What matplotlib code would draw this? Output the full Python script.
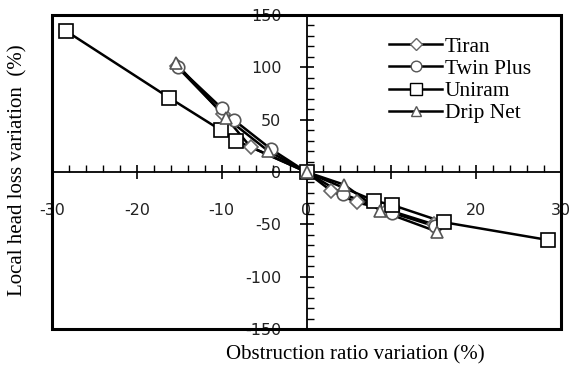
import matplotlib
matplotlib.use("Agg")
import matplotlib.pyplot as plt
from matplotlib.patches import Rectangle
from matplotlib.ticker import MultipleLocator

plt.rcParams["axes.unicode_minus"] = False

# Data
tiran_x = [-15.3, -9.8, -6.6, 0, 2.9, 5.9, 9.5, 15.0]
tiran_y = [101, 55, 24, 0, -18, -29, -36, -50]
twin_x = [-15.1, -10.0, -8.6, -4.2, 0, 4.3, 10.1, 15.2]
twin_y = [100, 61, 50, 22, 0, -21, -39, -52]
uniram_x = [-28.4, -16.2, -10.1, -8.3, 0, 8.0, 10.1, 16.2, 28.5]
uniram_y = [135, 71, 40, 30, 0, -27.5, -31.5, -48, -65]
drip_x = [-15.4, -9.5, -4.5, 0, 4.4, 8.7, 15.4]
drip_y = [104, 52, 20, 0, -12, -37, -57]

series_names = ["Tiran", "Twin Plus", "Uniram", "Drip Net"]
x_ticks = [-30, -20, -10, 0, 10, 20, 30]
y_ticks = [-150, -100, -50, 0, 50, 100, 150]

fig = plt.figure(figsize=(5.72, 3.68), dpi=100)
ax = fig.add_axes([52/572, 1-329/368, (561-52)/572, (329-15)/368])
ax.set_xlim(-30, 30)
ax.set_ylim(-150, 150)

styles = [
    dict(marker="D", ms=7.5, mec="#666666"),
    dict(marker="o", ms=9, mec="#555555"),
    dict(marker="s", ms=10.5, mec="black"),
    dict(marker="^", ms=8.5, mec="#555555"),
]
data = [(tiran_x, tiran_y), (twin_x, twin_y), (uniram_x, uniram_y), (drip_x, drip_y)]
handles = []
for (xs, ys), st, name in zip(data, styles, series_names):
    ax.plot(xs, ys, color="black", lw=1.8, zorder=3)
    ax.plot(xs, ys, ls="none", marker=st["marker"], ms=st["ms"], mfc="white",
            mec=st["mec"], mew=1.2, zorder=4)
    h, = ax.plot([], [], color="black", lw=1.8, marker=st["marker"],
                 ms=st["ms"] * 0.85, mfc="white", mec=st["mec"], mew=1.0, label=name)
    handles.append(h)

for s in ["top", "right"]:
    ax.spines[s].set_visible(False)
ax.spines["left"].set_position(("data", 0))
ax.spines["bottom"].set_position(("data", 0))
ax.spines["left"].set_linewidth(1.3)
ax.spines["bottom"].set_linewidth(1.3)
ax.add_patch(Rectangle((0, 0), 1, 1, transform=ax.transAxes, fill=False,
                       lw=2.2, ec="black", zorder=5, clip_on=False))

ax.set_xticks(x_ticks)
ax.set_yticks(y_ticks)
ax.xaxis.set_minor_locator(MultipleLocator(2))
ax.yaxis.set_minor_locator(MultipleLocator(10))
ax.tick_params(axis="both", which="major", direction="inout", length=10,
               width=1.2, labelsize=11.5, labelcolor="#222222")
ax.tick_params(axis="both", which="minor", direction="in", length=5, width=1.0)
ax.tick_params(axis="x", which="major", pad=17)
ax.tick_params(axis="y", which="major", pad=13)
for lab in ax.get_xticklabels() + ax.get_yticklabels():
    lab.set_family("DejaVu Sans")

fig.text(355/572, 1-355/368, "Obstruction ratio variation (%)", family="Liberation Serif",
         fontsize=15, ha="center", va="center")
fig.text(18/572, 1-170/368, "Local head loss variation  (%)", family="Liberation Serif",
         fontsize=15, ha="center", va="center", rotation=90)

leg = ax.legend(handles=handles, loc="upper left", bbox_to_anchor=(380/572, 1-28/368),
                bbox_transform=fig.transFigure, frameon=False,
                prop={"family": "Liberation Serif", "size": 15.5},
                handlelength=2.5, handletextpad=0.1, labelspacing=0.1, borderaxespad=0)

fig.savefig("out.png", dpi=100)
